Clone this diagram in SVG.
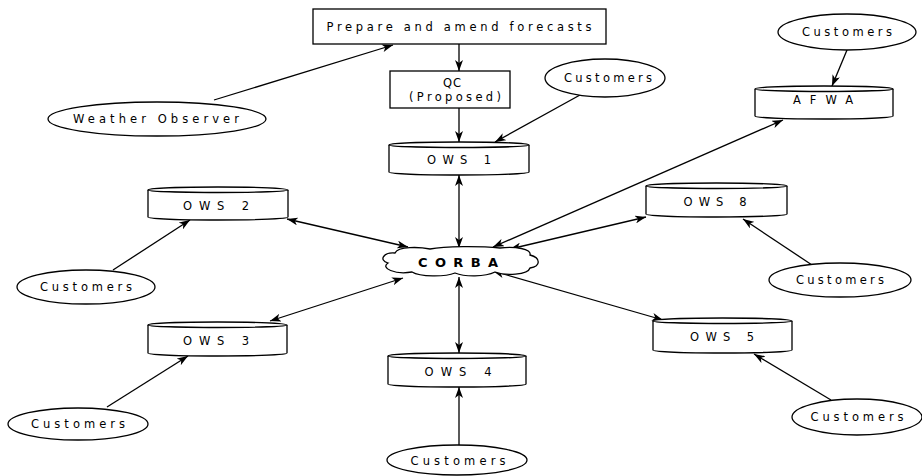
<svg xmlns="http://www.w3.org/2000/svg" width="922" height="476" viewBox="0 0 922 476">
<style>
.shape{fill:#fff;stroke:#000;stroke-width:1.3}
.line{fill:none;stroke:#000;stroke-width:1.3}
.t{font-family:"DejaVu Sans","Liberation Sans",Arial,sans-serif;font-size:11.5px;fill:#000;text-anchor:middle}
.b{font-family:"DejaVu Sans","Liberation Sans",Arial,sans-serif;font-size:13px;font-weight:bold;fill:#000;text-anchor:middle}
</style>
<defs>
<marker id="ah" viewBox="0 0 11 8" refX="11" refY="4" markerWidth="11" markerHeight="8" markerUnits="userSpaceOnUse" orient="auto-start-reverse">
<path d="M0,0 L11,4 L0,8 L3,4 Z" fill="#000"/>
</marker>
</defs>
<rect width="922" height="476" fill="#fff"/>
<g id="connectors">
<line class="line" x1="459" y1="44" x2="459" y2="71" marker-end="url(#ah)"/>
<line class="line" x1="459" y1="108" x2="459" y2="142" marker-end="url(#ah)"/>
<line class="line" x1="214" y1="100" x2="393" y2="45" marker-end="url(#ah)"/>
<line class="line" x1="580" y1="95" x2="495" y2="142" marker-end="url(#ah)"/>
<line class="line" x1="847" y1="50" x2="832" y2="86" marker-end="url(#ah)"/>
<line class="line" x1="459" y1="175" x2="459" y2="248" marker-start="url(#ah)" marker-end="url(#ah)"/>
<line class="line" x1="287" y1="219" x2="408" y2="247" marker-start="url(#ah)" marker-end="url(#ah)"/>
<line class="line" x1="783" y1="120" x2="493" y2="247" marker-start="url(#ah)" marker-end="url(#ah)"/>
<line class="line" x1="646" y1="217" x2="510" y2="249" marker-start="url(#ah)" marker-end="url(#ah)"/>
<line class="line" x1="113" y1="270" x2="190" y2="220" marker-end="url(#ah)"/>
<line class="line" x1="812" y1="265" x2="743" y2="219" marker-end="url(#ah)"/>
<line class="line" x1="270" y1="321" x2="403" y2="278" marker-start="url(#ah)" marker-end="url(#ah)"/>
<line class="line" x1="459" y1="353" x2="459" y2="277" marker-start="url(#ah)" marker-end="url(#ah)"/>
<line class="line" x1="663" y1="320" x2="493" y2="271" marker-start="url(#ah)" marker-end="url(#ah)"/>
<line class="line" x1="107" y1="407" x2="188" y2="356" marker-end="url(#ah)"/>
<line class="line" x1="459" y1="445" x2="459" y2="387" marker-end="url(#ah)"/>
<line class="line" x1="831" y1="400" x2="754" y2="354" marker-end="url(#ah)"/>
</g>
<g id="prepare">
<rect class="shape" x="313" y="9" width="293" height="35"/>
<text class="t" x="459" y="31" textLength="265" lengthAdjust="spacing">Prepare and amend forecasts</text>
</g>
<g id="qc">
<rect class="shape" x="390" y="71" width="120" height="37"/>
<text class="t" x="452" y="87" textLength="18" lengthAdjust="spacing">QC</text>
<text class="t" x="455" y="101" textLength="92" lengthAdjust="spacing">(Proposed)</text>
</g>
<g id="weather-observer">
<ellipse class="shape" cx="157" cy="119" rx="109" ry="17"/>
<text class="t" x="156" y="123" textLength="166" lengthAdjust="spacing">Weather Observer</text>
</g>
<g id="customers-qc">
<ellipse class="shape" cx="605" cy="78" rx="60" ry="19"/>
<text class="t" x="608" y="82" textLength="88" lengthAdjust="spacing">Customers</text>
</g>
<g id="customers-afwa">
<ellipse class="shape" cx="847" cy="32" rx="69" ry="18"/>
<text class="t" x="847" y="36" textLength="90" lengthAdjust="spacing">Customers</text>
</g>
<g id="ows1">
<path class="shape" d="M389,145 A70,3 0 0 1 529,145 L529,172 A70,3 0 0 1 389,172 Z"/>
<path class="line" d="M389,145 A70,2.5 0 0 0 529,145"/>
<text class="t" x="459" y="164" textLength="64" lengthAdjust="spacing">OWS 1</text>
</g>
<g id="afwa">
<path class="shape" d="M755,89 A69,3 0 0 1 893,89 L893,116 A69,3 0 0 1 755,116 Z"/>
<path class="line" d="M755,89 A69,2.5 0 0 0 893,89"/>
<text class="t" x="823" y="104" textLength="60" lengthAdjust="spacing">AFWA</text>
</g>
<g id="ows2">
<path class="shape" d="M148,190 A70,3 0 0 1 288,190 L288,217 A70,3 0 0 1 148,217 Z"/>
<path class="line" d="M148,190 A70,2.5 0 0 0 288,190"/>
<text class="t" x="216" y="210" textLength="66" lengthAdjust="spacing">OWS 2</text>
</g>
<g id="ows8">
<path class="shape" d="M646,186 A70.5,3 0 0 1 787,186 L787,214 A70.5,3 0 0 1 646,214 Z"/>
<path class="line" d="M646,186 A70.5,2.5 0 0 0 787,186"/>
<text class="t" x="715" y="206" textLength="63" lengthAdjust="spacing">OWS 8</text>
</g>
<g id="corba">
<path class="shape" d="M395,253 C398,246 420,247 430,249 C445,246 480,246 500,248 C515,246 532,249 530,255 C541,258 541,266 530,268 C528,275 505,276 495,272 C485,277 465,277 455,273 C445,277 420,277 412,272 C395,275 380,268 388,263 C378,260 384,252 395,253 Z"/>
<text class="b" x="458" y="267" textLength="80" lengthAdjust="spacing">CORBA</text>
</g>
<g id="customers-ows2">
<ellipse class="shape" cx="86" cy="287" rx="69" ry="17"/>
<text class="t" x="86" y="291" textLength="92" lengthAdjust="spacing">Customers</text>
</g>
<g id="customers-ows8">
<ellipse class="shape" cx="840" cy="280" rx="71" ry="17"/>
<text class="t" x="840" y="284" textLength="88" lengthAdjust="spacing">Customers</text>
</g>
<g id="ows3">
<path class="shape" d="M148,325 A69.5,3 0 0 1 287,325 L287,353 A69.5,3 0 0 1 148,353 Z"/>
<path class="line" d="M148,325 A69.5,2.5 0 0 0 287,325"/>
<text class="t" x="216" y="345" textLength="66" lengthAdjust="spacing">OWS 3</text>
</g>
<g id="ows4">
<path class="shape" d="M388,356 A69,3 0 0 1 526,356 L526,384 A69,3 0 0 1 388,384 Z"/>
<path class="line" d="M388,356 A69,2.5 0 0 0 526,356"/>
<text class="t" x="458" y="376" textLength="67" lengthAdjust="spacing">OWS 4</text>
</g>
<g id="ows5">
<path class="shape" d="M653,321 A69.5,3 0 0 1 792,321 L792,350 A69.5,3 0 0 1 653,350 Z"/>
<path class="line" d="M653,321 A69.5,2.5 0 0 0 792,321"/>
<text class="t" x="722" y="341" textLength="64" lengthAdjust="spacing">OWS 5</text>
</g>
<g id="customers-ows3">
<ellipse class="shape" cx="78" cy="424" rx="70" ry="16"/>
<text class="t" x="78" y="428" textLength="94" lengthAdjust="spacing">Customers</text>
</g>
<g id="customers-ows4">
<ellipse class="shape" cx="457" cy="460" rx="70" ry="15"/>
<text class="t" x="458" y="465" textLength="95" lengthAdjust="spacing">Customers</text>
</g>
<g id="customers-ows5">
<ellipse class="shape" cx="857" cy="417" rx="65" ry="18"/>
<text class="t" x="857" y="421" textLength="93" lengthAdjust="spacing">Customers</text>
</g>
</svg>
